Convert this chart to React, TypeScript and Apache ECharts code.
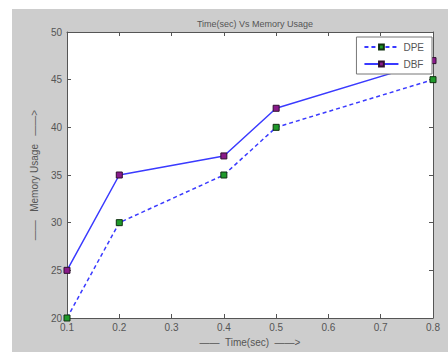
import React, { useEffect, useRef } from "react";
import * as echarts from "echarts";

const times = [0.1, 0.2, 0.4, 0.5, 0.8];
const dpe = [20, 30, 35, 40, 45];
const dbf = [25, 35, 37, 42, 47];

export default function App() {
  const ref = useRef<HTMLDivElement>(null);
  useEffect(() => {
    const chart = echarts.init(ref.current!, null, { renderer: "svg" });
    const font = "Arial, 'Liberation Sans', sans-serif";
    const axisCommon = {
      axisLine: { show: true, lineStyle: { color: "#555", width: 1 } },
      axisTick: { show: true, inside: true, length: 4, lineStyle: { color: "#555" } },
      splitLine: { show: false },
    };
    chart.setOption({
      animation: false,
      backgroundColor: "#fff",
      textStyle: { fontFamily: font },
      graphic: [
        {
          type: "rect",
          z: -10,
          silent: true,
          shape: { x: 12, y: 9, width: 436, height: 343 },
          style: { fill: "#cdcdcd" },
        },
      ],
      title: {
        text: "Time(sec) Vs Memory Usage",
        left: 250,
        textAlign: "center",
        top: 14,
        textStyle: { fontSize: 9, fontWeight: "normal", color: "#555", fontFamily: font },
      },
      legend: {
        right: 16,
        top: 37,
        orient: "vertical",
        backgroundColor: "#fff",
        borderColor: "#777",
        borderWidth: 1,
        borderRadius: 0,
        padding: [5, 8, 5, 7],
        itemGap: 7,
        itemWidth: 34,
        itemHeight: 6,
        textStyle: { fontSize: 10, color: "#555", fontFamily: font },
        data: ["DPE", "DBF"],
      },
      grid: {
        left: 67,
        top: 32,
        right: 15,
        bottom: 30,
        show: true,
        backgroundColor: "#fff",
        borderColor: "#555",
        borderWidth: 0,
      },
      xAxis: [
        {
          type: "value",
          min: 0.1,
          max: 0.8,
          interval: 0.1,
          name: "——  Time(sec)  ——>",
          nameLocation: "middle",
          nameGap: 19,
          nameTextStyle: { fontSize: 10, color: "#555" },
          axisLabel: {
            fontSize: 10,
            color: "#555",
            margin: 4,
            formatter: (v: number) => String(Math.round(v * 10) / 10),
          },
          ...axisCommon,
        },
        {
          type: "value",
          position: "top",
          min: 0.1,
          max: 0.8,
          interval: 0.1,
          axisLabel: { show: false },
          ...axisCommon,
        },
      ],
      yAxis: [
        {
          type: "value",
          min: 20,
          max: 50,
          interval: 5,
          name: "——   Memory Usage   ——>",
          nameLocation: "middle",
          nameGap: 24,
          nameTextStyle: { fontSize: 10, color: "#555" },
          axisLabel: { fontSize: 10, color: "#555", margin: 5 },
          ...axisCommon,
        },
        {
          type: "value",
          position: "right",
          min: 20,
          max: 50,
          interval: 5,
          axisLabel: { show: false },
          ...axisCommon,
        },
      ],
      series: [
        {
          name: "DPE",
          type: "line",
          data: times.map((t, i) => [t, dpe[i]]),
          symbol: "rect",
          symbolSize: 6,
          lineStyle: { color: "#3a3aff", width: 1.5, type: [4, 3] },
          itemStyle: { color: "#1f9a2a", borderColor: "#103010", borderWidth: 1 },
        },
        {
          name: "DBF",
          type: "line",
          data: times.map((t, i) => [t, dbf[i]]),
          symbol: "rect",
          symbolSize: 6,
          lineStyle: { color: "#3a3aff", width: 1.5 },
          itemStyle: { color: "#8a1a8a", borderColor: "#301030", borderWidth: 1 },
        },
      ],
    });
    return () => chart.dispose();
  }, []);
  return (
    <div
      ref={ref}
      style={{ position: "absolute", left: 0, top: 0, width: 448, height: 352 }}
    />
  );
}
